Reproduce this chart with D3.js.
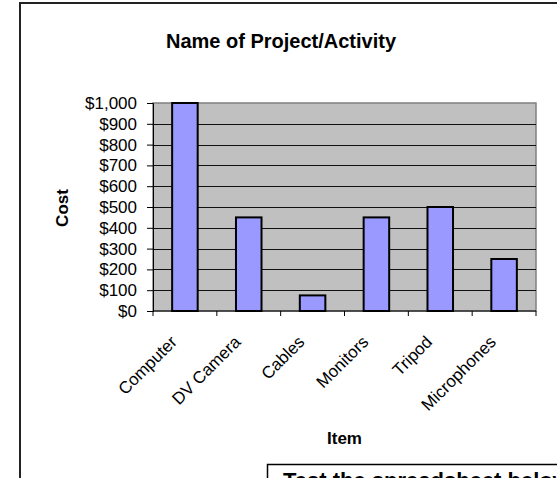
<!DOCTYPE html>
<html lang="en">
  <head>
    <meta charset="utf-8" />
    <title>Name of Project/Activity</title>
    <script src="https://d3js.org/d3.v7.min.js"></script>
    <style type="text/css">
      body { margin: 0; background: #fff; }
      svg { display: block; font-family: Arial, 'Liberation Sans', sans-serif; }
    </style>
  </head>
  <body>
    <script type="text/javascript">
      const w = 557;
      const h = 478;

      // chart data
      const items = ['Computer', 'DV Camera', 'Cables', 'Monitors', 'Tripod', 'Microphones'];
      const costs = [1000, 450, 75, 450, 500, 250];
      const costTicks = [0, 100, 200, 300, 400, 500, 600, 700, 800, 900, 1000];

      // plot area
      const plotL = 153, plotR = 536, plotT = 103, plotB = 311;

      const svg = d3.select('body').append('svg').attr('width', w).attr('height', h);

      //Chart frame (runs off the right and bottom)
      svg.append('rect')
        .attr('x', 20).attr('y', 3)
        .attr('width', 600).attr('height', 520)
        .attr('fill', '#fff')
        .attr('stroke', '#222')
        .attr('stroke-width', 2);

      const xScale = d3.scaleBand()
        .domain(items)
        .range([plotL, plotR])
        .paddingInner(0.6)
        .paddingOuter(0.3);

      const yScale = d3.scaleLinear()
        .domain([0, 1000])
        .range([plotB, plotT]);

      //Plot background
      svg.append('rect')
        .attr('x', plotL).attr('y', plotT)
        .attr('width', plotR - plotL).attr('height', plotB - plotT)
        .attr('fill', '#c0c0c0')
        .attr('stroke', '#808080')
        .attr('stroke-width', 1.5);

      //Gridlines
      svg.selectAll('line.grid')
        .data(costTicks.slice(1, -1))
        .enter()
        .append('line')
        .attr('class', 'grid')
        .attr('x1', plotL).attr('x2', plotR)
        .attr('y1', d => Math.round(yScale(d)) + 0.5)
        .attr('y2', d => Math.round(yScale(d)) + 0.5)
        .attr('stroke', '#111')
        .attr('stroke-width', 1);

      //Bars
      svg.selectAll('rect.bar')
        .data(costs)
        .enter()
        .append('rect')
        .attr('class', 'bar')
        .attr('x', (d, i) => xScale(items[i]))
        .attr('y', d => yScale(d))
        .attr('width', xScale.bandwidth())
        .attr('height', d => plotB - yScale(d))
        .attr('fill', '#9999ff')
        .attr('stroke', '#000')
        .attr('stroke-width', 2);

      //Y axis
      const yAxis = d3.axisLeft(yScale)
        .tickValues(costTicks)
        .tickSize(6)
        .tickPadding(10)
        .tickFormat(d => '$' + d3.format(',')(d));

      const gy = svg.append('g')
        .attr('transform', `translate(${plotL},0)`)
        .call(yAxis);
      gy.select('.domain').attr('stroke', '#000');
      gy.selectAll('.tick text')
        .attr('font-size', '17px')
        .attr('font-family', 'Arial, Liberation Sans, sans-serif')
        .attr('fill', '#000');

      //X axis line + ticks at band boundaries
      const bounds = d3.range(items.length + 1).map(i => plotL + i * (plotR - plotL) / items.length);
      svg.append('line')
        .attr('x1', plotL).attr('x2', plotR)
        .attr('y1', plotB).attr('y2', plotB)
        .attr('stroke', '#000');
      svg.selectAll('line.xtick')
        .data(bounds)
        .enter()
        .append('line')
        .attr('class', 'xtick')
        .attr('x1', d => d).attr('x2', d => d)
        .attr('y1', plotB).attr('y2', plotB + 5)
        .attr('stroke', '#000');

      //Category labels, rotated
      svg.selectAll('text.xlab')
        .data(items)
        .enter()
        .append('text')
        .attr('class', 'xlab')
        .text(d => d)
        .attr('text-anchor', 'end')
        .attr('font-size', '17px')
        .attr('transform', d => {
          const cx = xScale(d) + xScale.bandwidth() / 2 - 7;
          return `translate(${cx},${plotB + 32}) rotate(-45)`;
        });

      //Titles
      svg.append('text')
        .text('Name of Project/Activity')
        .attr('x', 281)
        .attr('y', 48)
        .attr('text-anchor', 'middle')
        .attr('font-size', '20px')
        .attr('font-weight', 'bold');

      svg.append('text')
        .text('Item')
        .attr('x', (plotL + plotR) / 2)
        .attr('y', 444)
        .attr('text-anchor', 'middle')
        .attr('font-size', '17px')
        .attr('font-weight', 'bold');

      svg.append('text')
        .text('Cost')
        .attr('transform', `translate(68,208) rotate(-90)`)
        .attr('text-anchor', 'middle')
        .attr('font-size', '17px')
        .attr('font-weight', 'bold');

      //Text box below the chart
      svg.append('rect')
        .attr('x', 267.5).attr('y', 464.5)
        .attr('width', 400).attr('height', 60)
        .attr('fill', '#fff')
        .attr('stroke', '#000')
        .attr('stroke-width', 1.5);
      svg.append('text')
        .text('Test the spreadsheet below')
        .attr('x', 283)
        .attr('y', 488)
        .attr('font-size', '22px')
        .attr('font-weight', 'bold');
    </script>
  </body>
</html>
